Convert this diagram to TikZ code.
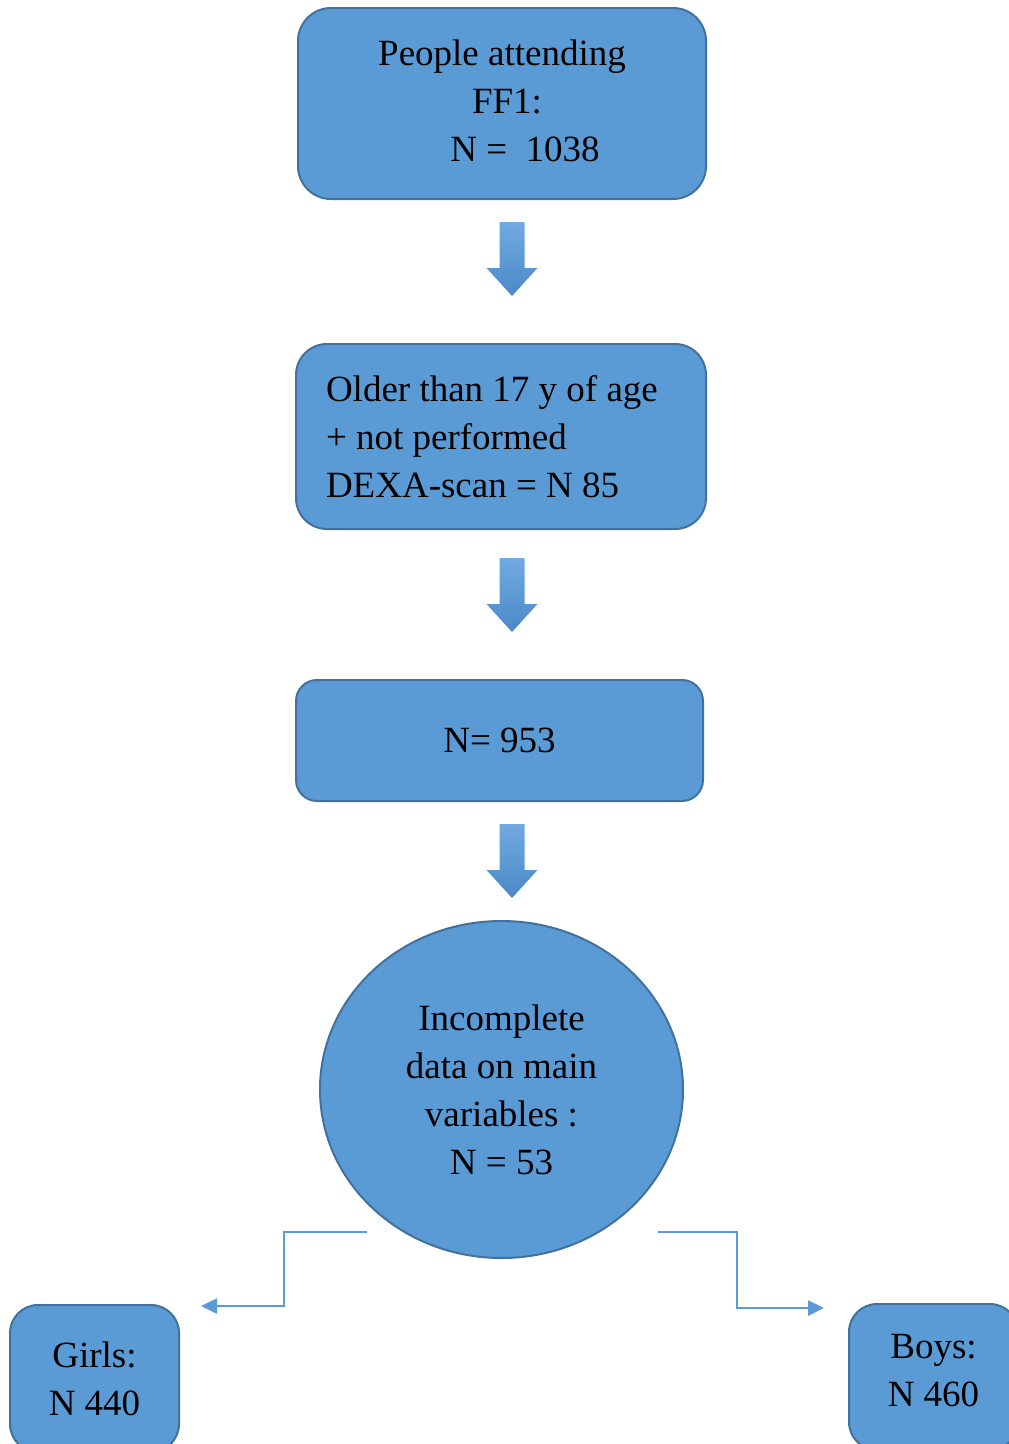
\documentclass[tikz,border=0pt]{standalone}
\usepackage{fontspec}
\setmainfont{Liberation Serif}
\usetikzlibrary{shapes.geometric, arrows.meta}
\definecolor{boxblue}{HTML}{5B9BD5}
\definecolor{boxedge}{HTML}{41719C}
\definecolor{arrowtop}{HTML}{72AADF}
\definecolor{arrowbot}{HTML}{4A89C8}
\tikzset{
  flowbox/.style={draw=boxedge, line width=2pt, fill=boxblue, rounded corners=#1,
    font=\fontsize{37}{48}\selectfont, text=black, inner sep=0pt},
  flowline/.style={draw=boxblue, line width=2.5pt, -{Triangle[length=16pt, width=15pt]}}
}
% block arrow pointing down: #1 = centre x, #2 = top y
\newcommand{\blockarrow}[2]{%
  \shade[top color=arrowtop, bottom color=arrowbot]
    (#1-12.5,#2) -- (#1+12.5,#2) -- (#1+12.5,#2+46) -- (#1+25.5,#2+46)
    -- (#1,#2+74) -- (#1-25.5,#2+46) -- (#1-12.5,#2+46) -- cycle;}

\begin{document}
\begin{tikzpicture}[x=1pt, y=-1pt]
\path[use as bounding box, clip] (0,0) rectangle (1009,1444);

%boxes
\node[flowbox=33pt, minimum width=408pt, minimum height=191pt, align=center,
  label={[font=\fontsize{37}{48}\selectfont, align=center, yshift=3pt]center:{People attending\\\hspace*{10pt}FF1:\\\hspace*{46pt}N =\ \ 1038}}] (ff1) at (502,103.5) {};
\node[flowbox=31pt, minimum width=410pt, minimum height=185pt, text width=350pt, align=flush left] (older) at (501,436.5)
  {Older than 17 y of age\\+ not performed\\DEXA-scan = N 85};
\node[flowbox=21pt, minimum width=407pt, minimum height=121pt] (total) at (499.5,740.5) {N= 953};
\node[flowbox=0pt, ellipse, minimum width=363pt, minimum height=337pt, align=center] (incomplete) at (501.5,1089.5)
  {Incomplete\\data on main\\variables :\\N = 53};
\node[flowbox=28pt, minimum width=169pt, minimum height=147pt, align=center] (girls) at (94.5,1378.5)
  {Girls:\\N 440};
\node[flowbox=28pt, minimum width=169pt, minimum height=146pt,
  label={[font=\fontsize{37}{48}\selectfont, align=center, yshift=6.5pt]center:{Boys:\\N 460}}] (boys) at (933.5,1377) {};

%block arrows
\blockarrow{512}{222}
\blockarrow{512}{558}
\blockarrow{512}{824}

%split to girls and boys
\coordinate (gfrom) at (367,1232);
\coordinate (gto) at (201,1306);
\coordinate (bfrom) at (658,1232);
\coordinate (bto) at (824,1308);
\draw[flowline] (gfrom) -- (284,1232) |- (gto);
\draw[flowline] (bfrom) -- (737,1232) |- (bto);
\end{tikzpicture}
\end{document}
